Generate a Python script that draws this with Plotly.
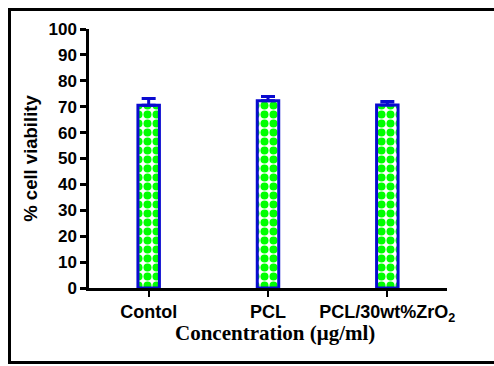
import plotly.graph_objects as go

categories = ["Contol", "PCL", "PCL/30wt%ZrO<sub>2</sub>"]
viability = [70.6, 72.3, 70.7]
errors = [2.6, 1.6, 1.3]
y_ticks = list(range(0, 101, 10))
x_title = "Concentration (μg/ml)"
y_title = "% cell viability"

W, H = 494, 366
ml, mr, mt, mb = 89, 47, 29, 78
pw, ph = W - ml - mr, H - mt - mb

blue = "#0a0ad0"

fig = go.Figure()
fig.add_trace(go.Bar(
    x=categories, y=viability, width=0.18,
    marker=dict(color="white",
                line=dict(color=blue, width=3),
                pattern=dict(shape=".", fgcolor="#00ff00", bgcolor="white",
                             size=9, solidity=0.62, fgopacity=1)),
    error_y=dict(type="data", array=errors, arrayminus=[0] * len(errors),
                 symmetric=False, color=blue, thickness=3, width=7),
))

fig.update_layout(
    width=W, height=H,
    margin=dict(l=ml, r=mr, t=mt, b=mb),
    paper_bgcolor="white", plot_bgcolor="white",
    showlegend=False,
    font=dict(family="Arial, Liberation Sans", color="black"),
    xaxis=dict(range=[-0.5, 2.5], showline=True, linecolor="black", linewidth=2.5,
               ticks="outside", ticklen=6, tickwidth=2, tickcolor="black",
               showgrid=False, zeroline=False,
               tickfont=dict(size=18, weight="bold", family="Arial, Liberation Sans")),
    yaxis=dict(range=[0, 100], tickvals=y_ticks, showline=True, linecolor="black",
               linewidth=2.5, ticks="outside", ticklen=6, tickwidth=2.5,
               tickcolor="black", showgrid=False, zeroline=False,
               tickfont=dict(size=17, weight="bold", family="Arial, Liberation Sans"),
               title=dict(text=y_title, standoff=6,
                          font=dict(size=18.5, weight="bold",
                                    family="Arial, Liberation Sans"))),
)

fig.add_annotation(text=x_title, xref="paper", yref="paper",
                   x=0.52, y=-(333 - (mt + ph)) / ph, xanchor="center", yanchor="middle",
                   showarrow=False,
                   font=dict(size=21, weight="bold", color="black",
                             family="Times New Roman, Liberation Serif"))

fig.add_shape(type="rect", xref="paper", yref="paper",
              x0=(9.5 - ml) / pw, x1=(W + 10 - ml) / pw,
              y0=-(362.5 - (mt + ph)) / ph, y1=((mt + ph) - 9.5) / ph,
              line=dict(color="black", width=3), fillcolor="rgba(0,0,0,0)")

fig.write_html("out.html")
